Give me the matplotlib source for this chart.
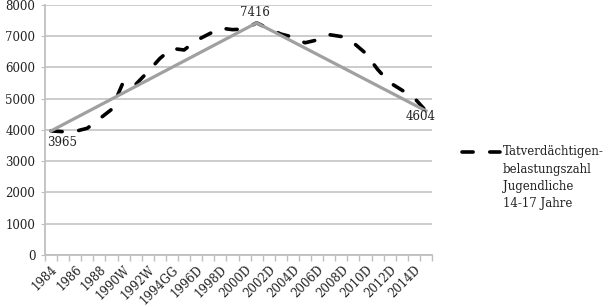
import matplotlib
matplotlib.use("Agg")
import matplotlib.pyplot as plt
from matplotlib.lines import Line2D

years = list(range(1984, 2016))
tick_labels = ["1984", "1986", "1988", "1990W", "1992W", "1994GG", "1996D", "1998D",
               "2000D", "2002D", "2004D", "2006D", "2008D", "2010D", "2012D", "2014D"]
tvbz = [3965, 3940, 3950, 4050, 4350, 4650, 5550, 5450, 5850, 6280,
        6600, 6550, 6850, 7050, 7250, 7200, 7220, 7416, 7230, 7060,
        6960, 6780, 6870, 7040, 6980, 6780, 6450, 5930, 5510, 5270,
        5030, 4604]
trend_years = [1984, 2001, 2015]
trend_vals = [3965, 7416, 4604]
legend_label = "Tatverdächtigen-\nbelastungszahl\nJugendliche\n14-17 Jahre"

plt.rcParams['font.family'] = ['DejaVu Serif']
plt.rcParams['lines.scale_dashes'] = False

fig = plt.figure(figsize=(6.09, 3.07), dpi=100)
ax = fig.add_axes([45/609, 1-255/307, (432-45)/609, (255-4.6)/307])

x = [y - years[0] for y in years]
tx = [y - years[0] for y in trend_years]

gridc = '#BFBFBF'
ax.set_ylim(0, 8000)
ax.set_xlim(-0.5, len(years) - 0.5)
ax.set_yticks(range(0, 8001, 1000))
ax.yaxis.grid(True, color=gridc, linewidth=1.1)
ax.set_axisbelow(True)

ax.plot(x, tvbz, color='black', linewidth=2.6, linestyle=(0, (8, 12)),
        dash_capstyle='round', solid_capstyle='round', zorder=3)
ax.plot(tx, trend_vals, color='#A0A0A0', linewidth=2.3, zorder=4,
        solid_joinstyle='miter')

fs = 8.5
offsets = [(8, -8.5), (-1, 3), (-4, -4)]
vas = ['center', 'bottom', 'center']
for xi, v, off, va in zip(tx, trend_vals, offsets, vas):
    ax.annotate(str(v), (xi, v), xytext=off, textcoords='offset points',
                ha='center', va=va, fontsize=fs, color='#222222', zorder=5)

for s in ['top', 'right']:
    ax.spines[s].set_visible(False)
for s in ['left', 'bottom']:
    ax.spines[s].set_color(gridc)
    ax.spines[s].set_linewidth(1.3)

ax.tick_params(axis='y', length=3, color=gridc, pad=4, labelsize=fs, labelcolor='#222222')
ax.set_xticks([i for i in range(0, len(years), 2)])
ax.set_xticklabels(tick_labels, rotation=45, ha='right', va='top',
                   rotation_mode='anchor', fontsize=fs, color='#222222')
ax.tick_params(axis='x', which='major', length=0, pad=6)
ax.set_xticks([i - 0.5 for i in range(len(years) + 1)], minor=True)
ax.tick_params(axis='x', which='minor', length=4, color=gridc, width=1)

# legend
W, H = 609, 307
fig.add_artist(Line2D([462/W, 500/W], [1-152/H, 1-152/H], color='black',
                      linewidth=2.6, linestyle=(0, (8, 12)), dash_capstyle='round'))
fig.text(503/W, 1-145/H, legend_label, ha='left', va='top', fontsize=fs,
         color='#222222', linespacing=1.45)

fig.savefig("out.png", dpi=100)
